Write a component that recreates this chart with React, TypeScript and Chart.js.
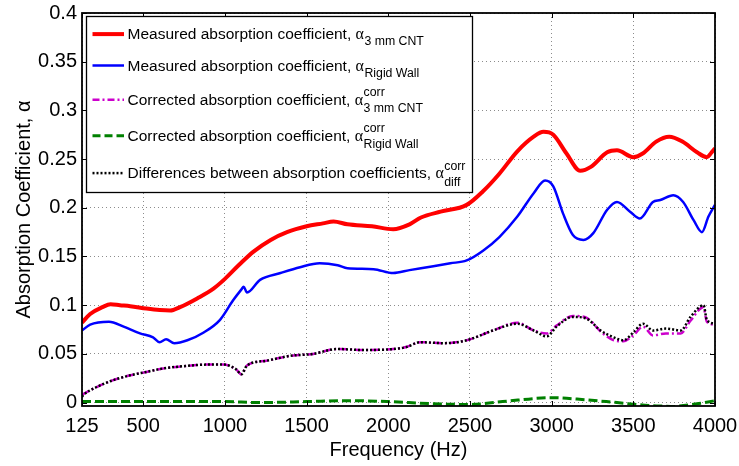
import React, { useEffect, useRef } from "react";
import { Chart, registerables } from "chart.js";

Chart.register(...registerables);

const xTicks = [125, 500, 1000, 1500, 2000, 2500, 3000, 3500, 4000];
const yTicks = [0, 0.05, 0.1, 0.15, 0.2, 0.25, 0.3, 0.35, 0.4];

const redFreq = [125, 175, 250, 300, 357, 420, 520, 600, 665, 725, 830, 930, 1000, 1090, 1175, 1280, 1380, 1500, 1600, 1665, 1750, 1900, 2030, 2130, 2200, 2320, 2480, 2580, 2680, 2790, 2890, 2950, 3010, 3090, 3175, 3240, 3340, 3400, 3500, 3560, 3640, 3720, 3800, 3890, 3950, 3975, 4000];
const redAlpha = [0.082, 0.091, 0.098, 0.101, 0.1, 0.099, 0.0965, 0.095, 0.0945, 0.098, 0.107, 0.117, 0.127, 0.142, 0.155, 0.167, 0.175, 0.181, 0.184, 0.186, 0.183, 0.181, 0.178, 0.183, 0.19, 0.196, 0.203, 0.217, 0.235, 0.258, 0.273, 0.278, 0.275, 0.256, 0.238, 0.242, 0.257, 0.259, 0.252, 0.256, 0.268, 0.273, 0.268, 0.257, 0.252, 0.256, 0.261];

const blueFreq = [125, 175, 290, 380, 480, 560, 600, 640, 690, 770, 870, 970, 1050, 1100, 1115, 1135, 1215, 1340, 1460, 1580, 1690, 1750, 1910, 2030, 2130, 2200, 2380, 2480, 2580, 2680, 2790, 2890, 2960, 3010, 3070, 3130, 3195, 3255, 3340, 3400, 3480, 3540, 3620, 3665, 3745, 3805, 3870, 3920, 3960, 4000];
const blueAlpha = [0.074, 0.08, 0.083, 0.078, 0.071, 0.067, 0.062, 0.065, 0.061, 0.064, 0.072, 0.085, 0.105, 0.116, 0.119, 0.113, 0.126, 0.133, 0.139, 0.143, 0.141, 0.138, 0.137, 0.133, 0.136, 0.138, 0.143, 0.146, 0.156, 0.17, 0.191, 0.215, 0.228, 0.222, 0.194, 0.172, 0.167, 0.174, 0.198, 0.206, 0.196, 0.189, 0.206, 0.208, 0.213, 0.206, 0.187, 0.175, 0.191, 0.203];

const diffFreq = [125, 135, 215, 316, 420, 520, 620, 725, 890, 990, 1070, 1100, 1135, 1255, 1400, 1540, 1685, 1850, 2030, 2110, 2195, 2340, 2480, 2640, 2790, 2890, 2970, 3030, 3130, 3215, 3300, 3380, 3440, 3500, 3560, 3620, 3700, 3790, 3850, 3930, 3950, 4000];
const diffAlpha = [0.006, 0.008, 0.016, 0.023, 0.028, 0.0315, 0.035, 0.037, 0.039, 0.039, 0.034, 0.029, 0.038, 0.043, 0.048, 0.05, 0.055, 0.054, 0.055, 0.057, 0.062, 0.061, 0.064, 0.074, 0.081, 0.074, 0.068, 0.078, 0.088, 0.086, 0.074, 0.067, 0.064, 0.072, 0.081, 0.074, 0.076, 0.074, 0.088, 0.1, 0.085, 0.081];

const cntCorrFreq = [125, 135, 215, 316, 420, 520, 620, 725, 890, 990, 1070, 1100, 1135, 1255, 1400, 1540, 1685, 1850, 2030, 2110, 2195, 2340, 2480, 2640, 2790, 2890, 2970, 3030, 3130, 3215, 3300, 3380, 3440, 3500, 3560, 3620, 3700, 3790, 3850, 3930, 3950, 4000];
const cntCorrAlpha = [0.008, 0.009, 0.016, 0.023, 0.028, 0.0315, 0.035, 0.037, 0.039, 0.039, 0.034, 0.029, 0.038, 0.043, 0.048, 0.05, 0.055, 0.054, 0.055, 0.057, 0.062, 0.061, 0.064, 0.074, 0.082, 0.074, 0.071, 0.079, 0.089, 0.087, 0.073, 0.064, 0.063, 0.069, 0.078, 0.069, 0.071, 0.071, 0.084, 0.098, 0.083, 0.08];

const wallCorrFreq = [125, 500, 1000, 1200, 1500, 1750, 2000, 2250, 2500, 2700, 3000, 3200, 3400, 3600, 3750, 3900, 4000];
const wallCorrAlpha = [0.001, 0.001, 0.001, 0.0, 0.001, 0.002, 0.001, -0.001, -0.002, 0.001, 0.005, 0.003, 0.0, -0.003, -0.004, -0.001, 0.002];

const legendMain = [
  "Measured absorption coefficient, ",
  "Measured absorption coefficient, ",
  "Corrected absorption coefficient, ",
  "Corrected absorption coefficient, ",
  "Differences between absorption coefficients, ",
];
const legendSup = ["", "", "corr", "corr", "corr"];
const legendSub = ["3 mm CNT", "Rigid Wall", "3 mm CNT", "Rigid Wall", "diff"];
const legendColor = ["#ff0000", "#0000ff", "#cc00cc", "#008000", "#000000"];
const legendWidth = [4, 2.5, 2.5, 3, 2.5];
const legendDash: number[][] = [[], [], [7, 3, 2, 3], [8, 4], [2, 2]];

const FONT = "'Liberation Sans', Arial, Helvetica, sans-serif";

function pts(xs: number[], ys: number[]) {
  return xs.map((x, i) => ({ x, y: ys[i] }));
}

const framePlugin = {
  id: "matlabFrame",
  afterDatasetsDraw(chart: any) {
    const { ctx, chartArea, scales } = chart;
    const { left, top, right, bottom } = chartArea;
    ctx.save();
    ctx.strokeStyle = "#000";
    ctx.lineWidth = 1;
    const tl = 5;
    ctx.beginPath();
    xTicks.forEach((v) => {
      const x = Math.round(scales.x.getPixelForValue(v)) + 0.5;
      ctx.moveTo(x, bottom);
      ctx.lineTo(x, bottom - tl);
      ctx.moveTo(x, top);
      ctx.lineTo(x, top + tl);
    });
    yTicks.forEach((v) => {
      const y = Math.round(scales.y.getPixelForValue(v)) + 0.5;
      ctx.moveTo(left, y);
      ctx.lineTo(left + tl, y);
      ctx.moveTo(right, y);
      ctx.lineTo(right - tl, y);
    });
    ctx.stroke();
    ctx.lineWidth = 1.8;
    ctx.strokeRect(left, top, right - left, bottom - top);
    ctx.restore();
  },
  afterDraw(chart: any) {
    const { ctx, chartArea } = chart;
    const bx = chartArea.left + 4.5;
    const by = chartArea.top + 3.5;
    const bw = 386;
    const bh = 176;
    ctx.save();
    ctx.fillStyle = "#fff";
    ctx.fillRect(bx, by, bw, bh);
    ctx.strokeStyle = "#000";
    ctx.lineWidth = 1.3;
    ctx.strokeRect(bx, by, bw, bh);
    const rowY = [17.6, 49, 83.3, 119.3, 156.6];
    for (let i = 0; i < legendMain.length; i++) {
      const ly = by + rowY[i];
      ctx.beginPath();
      ctx.setLineDash(legendDash[i]);
      ctx.strokeStyle = legendColor[i];
      ctx.lineWidth = legendWidth[i];
      ctx.moveTo(bx + 6, ly);
      ctx.lineTo(bx + 37.5, ly);
      ctx.stroke();
      ctx.setLineDash([]);
      const base = ly + 5;
      let x = bx + 41;
      ctx.fillStyle = "#000";
      ctx.textBaseline = "alphabetic";
      ctx.textAlign = "left";
      ctx.font = `15.5px ${FONT}`;
      ctx.fillText(legendMain[i], x, base);
      x += ctx.measureText(legendMain[i]).width;
      ctx.font = `16px 'Liberation Serif', 'DejaVu Serif', serif`;
      ctx.fillText("α", x, base);
      x += ctx.measureText("α").width + 0.5;
      ctx.font = `12.3px ${FONT}`;
      if (legendSup[i]) {
        ctx.fillText(legendSup[i], x, base - 8.5);
        ctx.fillText(legendSub[i], x, base + 7.5);
      } else {
        ctx.fillText(legendSub[i], x, base + 6);
      }
    }
    ctx.restore();
  },
};

export default function App() {
  const ref = useRef<HTMLCanvasElement | null>(null);
  useEffect(() => {
    if (!ref.current) return;
    const chart = new Chart(ref.current, {
      type: "line",
      data: {
        datasets: [
          {
            label: "diff",
            data: pts(diffFreq, diffAlpha),
            borderColor: "#000000",
            borderWidth: 2.5,
            borderDash: [2, 2],
            pointRadius: 0,
            cubicInterpolationMode: "monotone",
          },
          {
            label: "cntCorr",
            data: pts(cntCorrFreq, cntCorrAlpha),
            borderColor: "#cc00cc",
            borderWidth: 2.5,
            borderDash: [8, 3, 2, 3],
            pointRadius: 0,
            cubicInterpolationMode: "monotone",
          },
          {
            label: "wallCorr",
            data: pts(wallCorrFreq, wallCorrAlpha),
            borderColor: "#008000",
            borderWidth: 3,
            borderDash: [9, 4],
            pointRadius: 0,
            cubicInterpolationMode: "monotone",
          },
          {
            label: "wall",
            data: pts(blueFreq, blueAlpha),
            borderColor: "#0000ff",
            borderWidth: 2.5,
            pointRadius: 0,
            cubicInterpolationMode: "monotone",
          },
          {
            label: "cnt",
            data: pts(redFreq, redAlpha),
            borderColor: "#ff0000",
            borderWidth: 4,
            pointRadius: 0,
            cubicInterpolationMode: "monotone",
          },
        ],
      },
      options: {
        animation: false,
        responsive: false,
        events: [],
        layout: { padding: { left: 0, top: 13, right: 24, bottom: 0 } },
        plugins: { legend: { display: false }, tooltip: { enabled: false } },
        scales: {
          x: {
            type: "linear",
            min: 125,
            max: 4000,
            afterBuildTicks: (s: any) => {
              s.ticks = xTicks.map((v) => ({ value: v }));
            },
            afterFit: (s: any) => {
              s.height = 60;
              s.paddingLeft = 0;
              s.paddingRight = 0;
            },
            border: { display: false, dash: [1, 3] },
            grid: { color: "rgba(0,0,0,0.45)", lineWidth: 1, drawTicks: false } as any,
            ticks: {
              color: "#000",
              font: { family: FONT, size: 20 },
              padding: 8,
              maxRotation: 0,
              autoSkip: false,
              callback: (v: any) => String(v),
            },
            title: {
              display: true,
              text: "Frequency (Hz)",
              color: "#000",
              font: { family: FONT, size: 20 },
              padding: { top: 0, bottom: 4 },
            },
          },
          y: {
            type: "linear",
            min: -0.0035,
            max: 0.4,
            afterBuildTicks: (s: any) => {
              s.ticks = yTicks.map((v) => ({ value: v }));
            },
            afterFit: (s: any) => {
              s.width = 82;
              s.paddingTop = 0;
              s.paddingBottom = 0;
            },
            border: { display: false, dash: [1, 3] },
            grid: { color: "rgba(0,0,0,0.45)", lineWidth: 1, drawTicks: false } as any,
            ticks: {
              color: "#000",
              font: { family: FONT, size: 20 },
              padding: 5,
              autoSkip: false,
              callback: (v: any) => String(Math.round(Number(v) * 100) / 100),
            },
            title: {
              display: true,
              text: "Absorption Coefficient, α",
              color: "#000",
              font: { family: FONT, size: 20 },
              padding: { top: 12, bottom: 0 },
            },
          },
        },
      } as any,
      plugins: [framePlugin],
    });
    return () => chart.destroy();
  }, []);
  return (
    <div style={{ position: "fixed", left: 0, top: 0, width: 739, height: 466, background: "#fff" }}>
      <canvas ref={ref} width={739} height={466} style={{ display: "block" }} />
    </div>
  );
}
